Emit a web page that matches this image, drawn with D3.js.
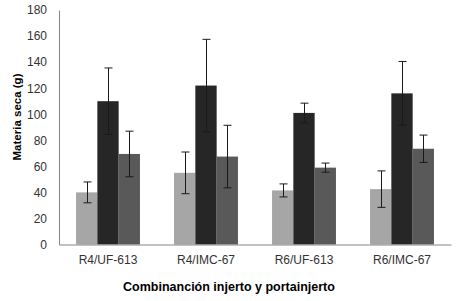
<!DOCTYPE html>
<html>
<head>
<meta charset="utf-8">
<script src="https://cdn.jsdelivr.net/npm/d3@7"></script>
<style>
  body { margin: 0; background: #fff; }
  svg text { font-family: "Liberation Sans", Arial, sans-serif; }
</style>
</head>
<body>
<div id="chart"></div>
<script>
// data
const categories = ['R4/UF-613', 'R4/IMC-67', 'R6/UF-613', 'R6/IMC-67'];
const seriesNames = ['s1', 's2', 's3'];
const seriesColors = ['#a6a6a6', '#262626', '#595959'];
const values1 = [40, 55, 41.5, 42.5];
const values2 = [110, 122, 101, 116];
const values3 = [69.5, 67.5, 59, 73.5];
const errors1 = [8, 16, 5, 14];
const errors2 = [25.5, 35.5, 7.5, 24.5];
const errors3 = [17.5, 24, 3.5, 10.5];
const yTicks = [0, 20, 40, 60, 80, 100, 120, 140, 160, 180];

const valueSets = [values1, values2, values3];
const errorSets = [errors1, errors2, errors3];
const rows = [];
categories.forEach((c, i) => {
    seriesNames.forEach((s, j) => {
        rows.push({ cat: c, series: s, value: valueSets[j][i], err: errorSets[j][i], color: seriesColors[j] });
    });
});

const W = 456, H = 301;
const plotLeft = 59, plotRight = 451, plotTop = 10, plotBottom = 244.5;

const svg = d3.select('#chart').append('svg')
    .attr('width', W)
    .attr('height', H);

const x = d3.scaleBand()
    .domain(categories)
    .range([plotLeft, plotRight])
    .paddingInner(0)
    .paddingOuter(0);

const x1 = d3.scaleBand()
    .domain(seriesNames)
    .range([0, x.bandwidth()])
    .paddingOuter(0.8)
    .paddingInner(0);

const y = d3.scaleLinear()
    .domain([0, 180])
    .range([plotBottom, plotTop]);

// bars
svg.selectAll('.bar')
    .data(rows)
    .enter()
    .append('rect')
    .attr('class', 'bar')
    .attr('x', d => x(d.cat) + x1(d.series))
    .attr('y', d => y(d.value))
    .attr('width', x1.bandwidth())
    .attr('height', d => y(0) - y(d.value))
    .attr('fill', d => d.color);

// error bars
const eb = svg.selectAll('.err')
    .data(rows)
    .enter()
    .append('g')
    .attr('class', 'err')
    .attr('stroke', '#1a1a1a')
    .attr('stroke-width', 1);

const cx = d => Math.round(x(d.cat) + x1(d.series) + x1.bandwidth() / 2) + 0.5;
eb.append('line')
    .attr('x1', cx).attr('x2', cx)
    .attr('y1', d => y(d.value + d.err))
    .attr('y2', d => y(d.value - d.err));
eb.append('line')
    .attr('x1', d => cx(d) - 4).attr('x2', d => cx(d) + 4)
    .attr('y1', d => y(d.value + d.err)).attr('y2', d => y(d.value + d.err));
eb.append('line')
    .attr('x1', d => cx(d) - 4).attr('x2', d => cx(d) + 4)
    .attr('y1', d => y(d.value - d.err)).attr('y2', d => y(d.value - d.err));

// y axis
const yAxis = svg.append('g')
    .attr('transform', `translate(${plotLeft},0)`)
    .call(d3.axisLeft(y).tickValues(yTicks).tickSize(0).tickPadding(12));
yAxis.select('.domain').attr('stroke', '#868686');
yAxis.selectAll('text')
    .attr('font-size', 12)
    .attr('fill', '#333');

// x axis
const xAxis = svg.append('g')
    .attr('transform', `translate(0,${plotBottom})`)
    .call(d3.axisBottom(x).tickSize(0).tickPadding(11));
xAxis.select('.domain').attr('stroke', '#868686');
xAxis.selectAll('text')
    .attr('font-size', 12)
    .attr('fill', '#333');

// axis titles
svg.append('text')
    .attr('transform', 'translate(21,117) rotate(-90)')
    .attr('text-anchor', 'middle')
    .attr('font-size', 11.5)
    .attr('font-weight', 'bold')
    .attr('fill', '#000')
    .text('Materia seca (g)');

svg.append('text')
    .attr('x', 229)
    .attr('y', 291)
    .attr('text-anchor', 'middle')
    .attr('font-size', 12.5)
    .attr('font-weight', 'bold')
    .attr('fill', '#000')
    .text('Combinanción injerto y portainjerto');
</script>
</body>
</html>
